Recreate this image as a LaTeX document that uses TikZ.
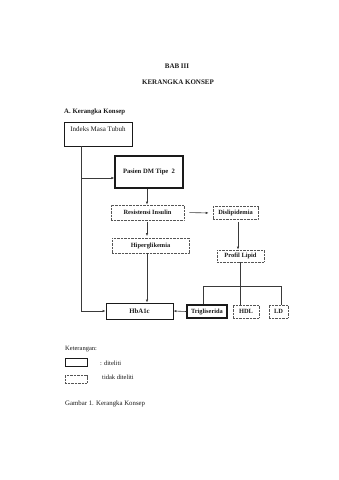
\documentclass[tikz,border=0pt]{standalone}
\usepackage{fontspec}
\setmainfont{Liberation Serif}
\usepackage{xcolor}
\usepackage{tikz}
\usetikzlibrary{arrows.meta,calc}
\definecolor{KKInk}  {HTML}{1A1A1A}
\definecolor{KKLine} {HTML}{3A3A3A}
\definecolor{KKDot}  {HTML}{555555}
\newcommand{\kkfont}[1]{\fontsize{#1}{#1}\selectfont}

\begin{document}
\begin{tikzpicture}[x=1pt,y=-1pt,
    boxtext/.style={font=\kkfont{6.4}\bfseries,text=KKInk,inner sep=0pt},
    solidbox/.style={boxtext,draw=KKInk,line width=0.8pt},
    dotbox/.style={boxtext,draw=KKDot,line width=0.6pt,dash pattern=on 0.7pt off 0.7pt},
    plaintext/.style={font=\kkfont{6.5},text=KKInk,anchor=west,inner sep=0pt},
    link/.style={draw=KKLine,line width=0.6pt},
    arr/.style={link,-{Latex[length=3pt,width=2.4pt]}}]
    \useasboundingbox (0,0) rectangle (339,480);

    % judul
    \node[font=\kkfont{7}\bfseries,text=KKInk] (bab) at (177,66) {BAB III};
    \node[font=\kkfont{7}\bfseries,text=KKInk] (judul) at (178,82) {KERANGKA KONSEP};
    \node[font=\kkfont{6.8}\bfseries,text=KKInk,anchor=west,inner sep=0pt] (subjudul) at (64,112) {A. Kerangka Konsep};

    % kotak
    \node[solidbox,font=\kkfont{7},line width=0.6pt,anchor=north,minimum width=68,
          inner ysep=3.5pt,text height=5.5pt,text depth=11pt] (imt) at (98,122) {Indeks Masa Tubuh};
    \node[solidbox,font=\kkfont{6.6}\bfseries,line width=1.2pt,minimum width=68,minimum height=32] (pasien) at (149,172) {Pasien DM Tipe\ \ 2};
    \node[dotbox,minimum width=73,minimum height=15] (resist) at (147.5,212.5) {Resistensi Insulin};
    \node[dotbox,minimum width=45,minimum height=13] (dislip) at (235.5,213) {Dislipidemia};
    \node[dotbox,minimum width=77,minimum height=15] (hiper) at (150.5,245.5) {Hiperglikemia};
    \node[dotbox,minimum width=47,minimum height=12] (profil) at (240.5,256) {Profil Lipid};
    \node[solidbox,font=\kkfont{6.8}\bfseries,minimum width=67,minimum height=16] (hba) at (139.5,311) {HbA1c};
    \node[solidbox,line width=1.1pt,minimum width=40,minimum height=13] (trig) at (207,311.5) {Trigliserida};
    \node[dotbox,minimum width=26,minimum height=13] (hdl) at (246,311.5) {HDL};
    \node[dotbox,minimum width=19,minimum height=13] (ld) at (278.5,311.5) {LD};

    % titik bantu
    \coordinate (kiri) at (81,145);
    \coordinate (masuk) at (81,178);
    \coordinate (tengah) at (147,0);
    \coordinate (kanan) at (238,0);
    \coordinate (cabang) at (240,286);
    \coordinate (cabangkiri) at (203,286);
    \coordinate (cabangkanan) at (281,286);

    % panah
    \draw[arr] (imt.south -| kiri) |- (hba.west);
    \draw[arr] (masuk) -- (pasien.west |- masuk);
    \draw[arr] (pasien.south -| tengah) -- (resist.north -| tengah);
    \draw[arr,shorten <=1.5pt,shorten >=1.5pt] (resist.south -| tengah) -- (hiper.north -| tengah);
    \draw[arr] (hiper.south -| tengah) -- (hba.north -| tengah);
    \draw[arr,shorten <=5pt,shorten >=4pt] (resist.east) -- (dislip.west);
    \draw[arr,shorten <=2pt] (dislip.south -| kanan) -- (profil.north -| kanan);
    \draw[link] (cabang |- profil.south) -- (cabang |- hdl.north);
    \draw[link] (cabangkiri |- trig.north) -- (cabangkiri) -- (cabangkanan) -- (cabangkanan |- ld.north);
    \draw[arr] (trig.west) -- (hba.east);

    % keterangan
    \node[plaintext] (ket) at (65,349) {Keterangan:};
    \node[draw=KKInk,line width=0.7pt,minimum width=22,minimum height=8,inner sep=0pt] (ketsolid) at (76,362) {};
    \node[plaintext] (ketsolidtxt) at (100,363) {: diteliti};
    \node[dotbox,minimum width=22,minimum height=7.5] (ketdot) at (76,379.5) {};
    \node[plaintext] (ketdottxt) at (102,377) {tidak diteliti};
    \node[plaintext,font=\kkfont{6.8}] (gambar) at (65,404) {Gambar 1. Kerangka Konsep};
\end{tikzpicture}
\end{document}
